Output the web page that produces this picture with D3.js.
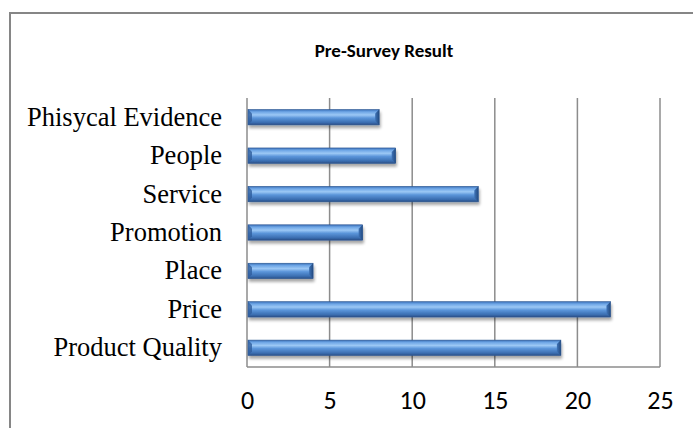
<!DOCTYPE html>
<html>
<head>
<meta charset="utf-8">
<script src="https://cdn.jsdelivr.net/npm/d3@7"></script>
<style>
  body { margin: 0; background: #fff; }
</style>
</head>
<body>
<div id="chart-area"></div>
<script>
// data
var categories = ["Phisycal Evidence", "People", "Service", "Promotion", "Place", "Price", "Product Quality"];
var values = [8, 9, 14, 7, 4, 22, 19];
var xTicks = [0, 5, 10, 15, 20, 25];

var W = 693, H = 428;
var margin = {top: 98, left: 247, right: 33, bottom: 61};
var width = W - margin.left - margin.right;
var height = H - margin.top - margin.bottom;

var svg = d3.select("#chart-area")
    .append("svg")
    .attr("width", W)
    .attr("height", H);

var defs = svg.append("defs");

var grad = defs.append("linearGradient")
    .attr("id", "barGrad")
    .attr("x1", 0).attr("y1", 0).attr("x2", 0).attr("y2", 1);
grad.append("stop").attr("offset", "0%").attr("stop-color", "#3a70b8");
grad.append("stop").attr("offset", "15%").attr("stop-color", "#6ea6e6");
grad.append("stop").attr("offset", "35%").attr("stop-color", "#9cc8f5");
grad.append("stop").attr("offset", "55%").attr("stop-color", "#5b95da");
grad.append("stop").attr("offset", "85%").attr("stop-color", "#3a6db0");
grad.append("stop").attr("offset", "100%").attr("stop-color", "#2a4f86");

var endGrad = defs.append("linearGradient")
    .attr("id", "endGrad")
    .attr("x1", 0).attr("y1", 0).attr("x2", 1).attr("y2", 0);
endGrad.append("stop").attr("offset", "0%").attr("stop-color", "#3f74b8");
endGrad.append("stop").attr("offset", "100%").attr("stop-color", "#234a80");

var shadow = defs.append("filter")
    .attr("id", "shadow")
    .attr("x", "-5%").attr("y", "-30%").attr("width", "110%").attr("height", "180%");
shadow.append("feGaussianBlur").attr("in", "SourceAlpha").attr("stdDeviation", 1.8);
shadow.append("feOffset").attr("dx", 1).attr("dy", 3).attr("result", "blur");
shadow.append("feComponentTransfer").append("feFuncA").attr("type", "linear").attr("slope", 0.35);
var merge = shadow.append("feMerge");
merge.append("feMergeNode");
merge.append("feMergeNode").attr("in", "SourceGraphic");

// outer frame (runs off the right and bottom edge)
svg.append("rect")
    .attr("x", 10).attr("y", 13)
    .attr("width", 720).attr("height", 450)
    .attr("fill", "none")
    .attr("stroke", "#868686")
    .attr("stroke-width", 2);

svg.append("text")
    .attr("x", 384)
    .attr("y", 57)
    .attr("text-anchor", "middle")
    .attr("font-family", "Carlito, 'Open Sans', sans-serif")
    .attr("font-weight", "bold")
    .attr("font-size", "19px")
    .attr("fill", "#000")
    .text("Pre-Survey Result");

var g = svg.append("g")
    .attr("transform", "translate(" + margin.left + ", " + margin.top + ")");

var x = d3.scaleLinear()
    .domain([0, 25])
    .range([0, width]);

var y = d3.scaleBand()
    .domain(categories)
    .range([0, height])
    .paddingInner(0.6)
    .paddingOuter(0.3);

// gridlines
g.selectAll(".grid")
    .data(xTicks)
    .enter()
    .append("line")
    .attr("class", "grid")
    .attr("x1", function(d) { return x(d); })
    .attr("x2", function(d) { return x(d); })
    .attr("y1", 0)
    .attr("y2", height)
    .attr("stroke", "#8c8c8c")
    .attr("stroke-width", 1.5);

// bottom line
g.append("line")
    .attr("x1", 0).attr("x2", width)
    .attr("y1", height).attr("y2", height)
    .attr("stroke", "#8c8c8c")
    .attr("stroke-width", 1.5);

// x axis labels
var xAxis = d3.axisBottom(x).tickValues(xTicks).tickSize(0).tickPadding(24);
var xAxisGroup = g.append("g")
    .attr("transform", "translate(0, " + height + ")")
    .call(xAxis);
xAxisGroup.select(".domain").remove();
xAxisGroup.selectAll("text")
    .attr("font-family", "Carlito, 'Open Sans', sans-serif")
    .attr("font-size", "26px")
    .attr("fill", "#000");

// y axis labels
var yAxis = d3.axisLeft(y).tickSize(0).tickPadding(25);
var yAxisGroup = g.append("g").call(yAxis);
yAxisGroup.select(".domain").remove();
yAxisGroup.selectAll("text")
    .attr("font-family", "'Liberation Serif', 'Times New Roman', serif")
    .attr("font-size", "26.5px")
    .attr("fill", "#000");

// bars
var bars = g.selectAll(".bar")
    .data(values)
    .enter()
    .append("g")
    .attr("class", "bar")
    .attr("filter", "url(#shadow)");

bars.append("rect")
    .attr("x", 1)
    .attr("y", function(d, i) { return y(categories[i]); })
    .attr("width", function(d) { return x(d) - 1; })
    .attr("height", y.bandwidth())
    .attr("fill", "url(#barGrad)")
    .attr("stroke", "#2c5590")
    .attr("stroke-width", 0.6);

// bevelled right end
bars.append("polygon")
    .attr("points", function(d, i) {
        var x1 = x(d), y0 = y(categories[i]), h = y.bandwidth(), b = 4;
        return [[x1 - b, y0 + b], [x1, y0], [x1, y0 + h], [x1 - b, y0 + h - b]].join(" ");
    })
    .attr("fill", "url(#endGrad)");

// bevelled left end
bars.append("polygon")
    .attr("points", function(d, i) {
        var y0 = y(categories[i]), h = y.bandwidth(), b = 4;
        return [[1, y0], [1 + b, y0 + b], [1 + b, y0 + h - b], [1, y0 + h]].join(" ");
    })
    .attr("fill", "#2f5e9e")
    .attr("opacity", 0.8);
</script>
</body>
</html>
